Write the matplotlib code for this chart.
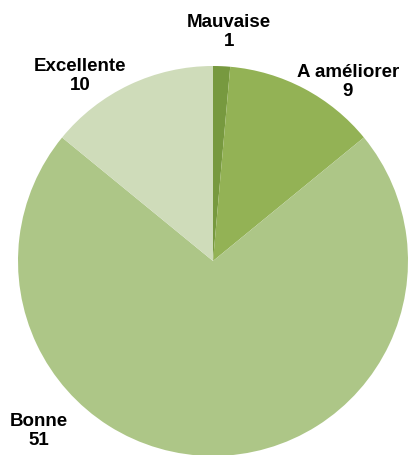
import matplotlib.pyplot as plt

# data
labels = ['Mauvaise', 'A améliorer', 'Bonne', 'Excellente']
values = [1, 9, 51, 10]
colors = ['#77993f', '#93b255', '#adc687', '#cfdcba']

# label positions in pixels (x, y from top)
label_pos = [(229, 32), (348, 82), (39, 431), (80, 76)]

W, H = 410, 455
fig = plt.figure(figsize=(W / 100, H / 100), dpi=100)

# pie centre ~ (213, 261) px, radius ~195 px
cx, cy, r = 213, 261, 195
ax = fig.add_axes([(cx - r) / W, (H - cy - r) / H, 2 * r / W, 2 * r / H])
ax.pie(values, colors=colors, startangle=90, counterclock=False, radius=1,
       wedgeprops=dict(linewidth=0))
ax.set_xlim(-1, 1)
ax.set_ylim(-1, 1)
ax.axis('off')

for lab, val, (px, py) in zip(labels, values, label_pos):
    fig.text(px / W, 1 - py / H, f'{lab}\n{val}', ha='center', va='center',
             fontsize=13.5, fontweight='bold', family='Liberation Sans',
             linespacing=1.1, color='black')

fig.savefig('out.png', dpi=100)
